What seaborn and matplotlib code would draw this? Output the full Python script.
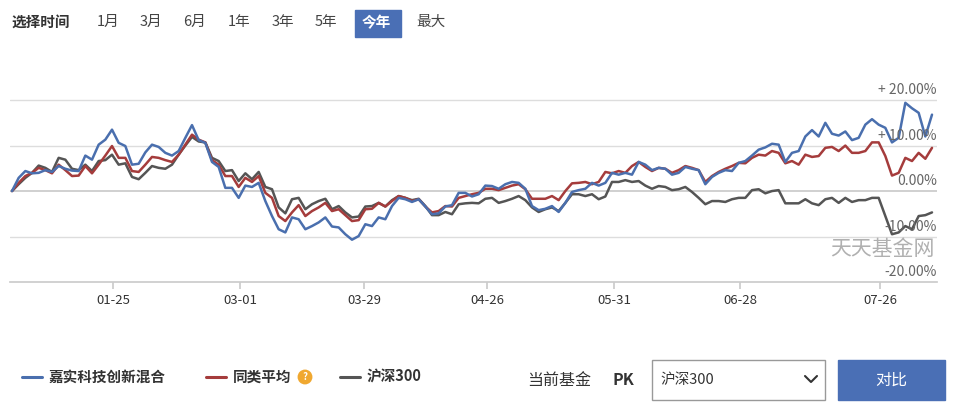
import numpy as np
import pandas as pd
import matplotlib
matplotlib.use("Agg")
import matplotlib.pyplot as plt
from matplotlib.patches import Rectangle
import seaborn as sns

# ------------------------------------------------------------------
# data: cumulative return (%) per trading day since start of year
# ------------------------------------------------------------------
fund_name = "嘉实科技创新混合"
peer_name = "同类平均"
index_name = "沪深300"

fund = [0, 2.9, 4.4, 3.9, 4.0, 4.6, 4.2, 5.5, 4.9, 4.5, 4.4, 7.8, 6.9, 10.2, 11.3, 13.5, 10.6, 9.9,
        5.8, 6.0, 8.5, 10.2, 9.7, 8.4, 7.8, 8.8, 11.7, 14.5, 11.2, 10.6, 6.4, 5.3, 0.7, 0.7, -1.5, 1.2,
        0.9, 1.8, -2.2, -5.5, -8.4, -9.1, -5.8, -6.2, -8.4, -7.7, -6.9, -5.8, -7.8, -8.0, -9.5, -10.7,
        -9.9, -7.3, -7.7, -5.8, -6.2, -3.3, -1.5, -1.8, -2.4, -1.8, -3.4, -5.1, -4.9, -3.4, -3.1, -0.4,
        -0.4, -1.2, -0.7, 1.2,
        1.1, 0.5, 1.5, 2.0, 1.8, 0.5, -3.3, -4.2, -3.9, -3.3, -4.6, -2.6, -0.2, 0.2, 0.5, 1.8, 1.2,
        1.8, 4.0, 3.6, 4.0, 3.6, 6.4, 5.8, 4.6, 5.1, 4.9, 3.6, 4.0, 5.3, 4.9, 4.6, 1.5, 3.1, 4.0, 4.6,
        4.4, 6.2, 6.6, 7.8, 9.1, 9.6, 10.4, 10.2, 6.4, 8.4, 8.8, 12.0, 13.4, 12.0, 15.0, 12.6, 12.2,
        13.1, 11.2, 11.7, 14.6, 15.8, 14.6, 13.9, 10.7, 11.7, 19.4, 18.2, 17.2, 12.0, 16.8]

peer = [0, 1.8, 3.3, 4.0, 5.1, 4.6, 3.9, 5.8, 4.6, 3.3, 3.4, 5.5, 3.9, 5.8, 7.8, 9.9, 7.3, 7.3,
        4.4, 4.2, 5.8, 7.5, 7.3, 6.8, 6.4, 8.0, 10.2, 12.4, 11.3, 10.7, 6.8, 5.8, 3.3, 3.3, 0.9, 2.9,
        2.0, 3.3, -0.4, -1.5, -5.5, -6.6, -4.7, -3.1, -5.5, -4.4, -3.6, -2.6, -4.4, -4.0, -5.3, -6.6,
        -6.4, -4.0, -3.9, -2.6, -3.4, -2.2, -1.1, -1.5, -2.2, -1.8, -3.4, -4.7, -4.4, -3.3, -3.4, -1.5,
        -1.1, -0.7, -0.4, 0.5,
        0.5, 0.2, 0.7, 1.2, 1.5, 0.4, -1.7, -1.7, -1.7, -1.1, -2.0, 0.0, 1.7, 1.8, 2.0, 1.5, 2.0,
        4.2, 3.9, 4.4, 4.0, 5.5, 6.4, 5.3, 4.4, 5.1, 4.9, 4.0, 4.6, 5.5, 5.1, 4.6, 2.0, 3.3, 4.2, 4.9,
        5.5, 6.2, 6.1, 7.3, 8.0, 7.8, 8.8, 8.4, 6.1, 6.6, 5.8, 8.0, 7.5, 7.7, 9.5, 9.7, 8.8,
        10.0, 8.4, 8.4, 8.8, 10.7, 10.7, 7.7, 3.4, 4.0, 7.3, 6.6, 8.4, 7.1, 9.5]

hs300 = [0, 1.5, 2.9, 4.0, 5.6, 5.1, 4.2, 7.3, 6.9, 4.9, 4.6, 5.8, 4.4, 6.6, 6.8, 8.0, 5.8, 6.1,
         3.1, 2.6, 4.0, 5.5, 5.1, 4.9, 5.8, 8.0, 10.0, 11.9, 10.9, 10.7, 7.3, 6.6, 4.4, 4.6, 2.2, 3.9,
         2.6, 4.2, 0.9, 0.4, -3.6, -4.9, -1.8, -1.5, -4.0, -2.9, -2.2, -1.7, -4.0, -3.3, -4.7, -5.8,
         -5.6, -3.4, -3.3, -2.6, -3.4, -2.0, -1.1, -1.5, -2.0, -1.7, -3.3, -5.3, -5.3, -4.6, -5.1, -2.9,
         -2.7, -2.6, -2.7, -1.7,
         -1.5, -2.6, -2.2, -1.7, -1.1, -2.0, -3.6, -4.6, -4.0, -3.6, -4.4, -2.6, -0.7, -0.7, -1.1, -0.7,
         -1.8, -1.2, 2.0, 2.0, 2.4, 2.0, 2.2, 1.2, 0.5, 1.1, 0.9, 0.2, 0.4, 0.9, -0.2, -1.5, -2.9, -2.2,
         -2.2, -2.4, -1.8, -1.5, -1.5, 0.2, 0.4, -0.5, 0.0, 0.2, -2.7, -2.7, -2.7, -1.8, -2.7, -3.1,
         -1.8, -1.5, -2.6, -1.5, -2.4, -2.0, -2.0, -1.5, -1.5, -5.5, -9.5, -9.1, -7.7, -8.4, -5.5,
         -5.3, -4.7]

tick_days = [15.15, 34.2, 52.8, 71.25, 90.3, 109.2, 130.2]
tick_labels = ["01-25", "03-01", "03-29", "04-26", "05-31", "06-28", "07-26"]
y_levels = [20, 10, 0, -10, -20]
y_texts = ["+ 20.00%", "+ 10.00%", "0.00%", "-10.00%", "-20.00%"]
periods = ["1月", "3月", "6月", "1年", "3年", "5年", "今年", "最大"]

colors = {fund_name: "#4a6fae", peer_name: "#a53c3c", index_name: "#555555"}

n = min(len(fund), len(peer), len(hs300))
df = pd.concat([
    pd.DataFrame({"day": np.arange(n), "ret": s[:n], "name": nm})
    for nm, s in [(index_name, hs300), (peer_name, peer), (fund_name, fund)]
])

# ------------------------------------------------------------------
sns.set_theme(style="white")
plt.rcParams["font.family"] = ["Noto Sans CJK SC", "DejaVu Sans"]

W, H = 976, 412
fig = plt.figure(figsize=(W / 100, H / 100), dpi=100)
ax = fig.add_axes([10 / W, 130 / H, 927 / W, 191 / H])

sns.lineplot(data=df, x="day", y="ret", hue="name", palette=colors,
             hue_order=[index_name, peer_name, fund_name],
             linewidth=1.8, legend=False, ax=ax)

ax.set_xlim(-0.3, 138.75)
ax.set_ylim(-20, 22)
for v in y_levels[:-1]:
    ax.axhline(v, color="#c8c8c8" if v == 0 else "#dddddd", lw=1.2 if v == 0 else 1, zorder=0)
for s in ["top", "left", "right"]:
    ax.spines[s].set_visible(False)
ax.spines["bottom"].set_color("#cccccc")
ax.set_xticks(tick_days)
ax.set_xticklabels(tick_labels, fontsize=9.5, color="#333333")
ax.tick_params(axis="x", length=5, color="#cccccc", pad=4, bottom=True)
ax.set_yticks([])
ax.set_xlabel("")
ax.set_ylabel("")
for v, t in zip(y_levels, y_texts):
    ax.text(1.0, v + 0.6, t, transform=ax.get_yaxis_transform(), ha="right", va="bottom",
            fontsize=10, color="#666666")
ax.text(0.997, -12.8, "天天基金网", transform=ax.get_yaxis_transform(), ha="right", va="center",
        fontsize=15, color="#b0b0b0")

# ------------------------------------------------------------------
# top period selector
def px(x, y):
    return x / W, 1 - y / H

fig.text(*px(12, 22), "选择时间", fontsize=10.5, fontweight="bold", color="#333333", va="center")
for label, x in zip(periods, [97, 140, 183, 228, 272, 315, 362, 416]):
    if label == "今年":
        fig.patches.append(Rectangle(px(355, 37), 46 / W, 27 / H, transform=fig.transFigure,
                                     color="#4a6fb5", zorder=0))
        fig.text(*px(x, 22), label, fontsize=10.5, color="white", va="center", fontweight="bold")
    else:
        fig.text(*px(x, 22), label, fontsize=10.5, color="#444444", va="center")

# bottom legend
for (nm, c), x0 in zip([(fund_name, colors[fund_name]), (peer_name, colors[peer_name]),
                        (index_name, colors[index_name])], [22, 206, 340]):
    fig.lines.append(plt.Line2D([x0 / W, (x0 + 20) / W], [1 - 377 / H] * 2,
                                transform=fig.transFigure, color=c, lw=2.2))
    fig.text(*px(x0 + 27, 377), nm, fontsize=10.5, fontweight="bold", color="#333333", va="center")
fig.text(*px(305, 377), "?", fontsize=7, color="white", ha="center", va="center", fontweight="bold",
         bbox=dict(boxstyle="circle,pad=0.25", fc="#f0a830", ec="none"))

fig.text(*px(527, 380), "当前基金", fontsize=11.5, color="#333333", va="center")
fig.text(*px(612, 380), "PK", fontsize=11.5, color="#333333", va="center", fontweight="bold")
fig.patches.append(Rectangle(px(652, 400), 173 / W, 40 / H, transform=fig.transFigure,
                             facecolor="white", edgecolor="#999999", lw=1))
fig.text(*px(660, 380), index_name, fontsize=10.5, color="#333333", va="center")
fig.lines.append(plt.Line2D([805 / W, 811 / W, 817 / W], [1 - 376 / H, 1 - 382 / H, 1 - 376 / H],
                            transform=fig.transFigure, color="#333333", lw=1.5))
fig.patches.append(Rectangle(px(838, 400), 107 / W, 40 / H, transform=fig.transFigure,
                             color="#4a6fb5"))
fig.text(*px(891, 380), "对比", fontsize=11.5, color="white", ha="center", va="center")

fig.savefig("out.png", dpi=100)
